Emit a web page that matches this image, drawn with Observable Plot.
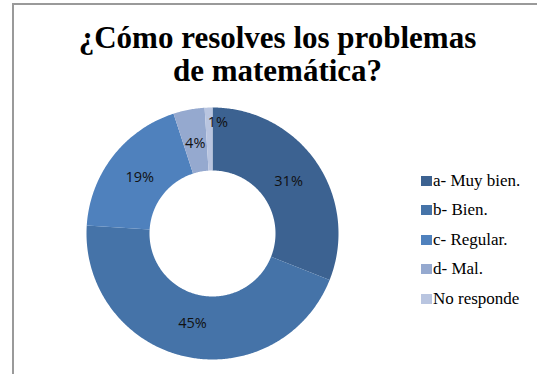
<!DOCTYPE html>
<html>
<head>
<meta charset="utf-8">
<script src="https://cdn.jsdelivr.net/npm/d3@7"></script>
<script src="https://cdn.jsdelivr.net/npm/@observablehq/plot@0.6"></script>
</head>
<body style="margin:0;background:#fff">
<div id="wrap" style="position:relative;width:537px;height:374px;overflow:hidden">
  <div style="position:absolute;left:12px;top:3px;width:560px;height:400px;border-left:2px solid #9a9a9a;border-top:2px solid #9a9a9a"></div>
  <div id="chart" style="position:absolute;left:0;top:0"></div>
  <div id="title" style="position:absolute;left:14px;width:527px;top:21px;text-align:center;font-family:'Liberation Serif';font-weight:bold;font-size:31px;line-height:33px;color:#000">¿Cómo resolves los problemas<br>de matemática?</div>
  <div id="legend" style="position:absolute;left:421px;top:166px;font-family:'Liberation Serif';font-size:17px;color:#000"></div>
</div>
<script>
const categories = ["a- Muy bien.", "b- Bien.", "c- Regular.", "d- Mal.", "No responde"];
const values = [31, 45, 19, 4, 1];
const labels = ["31%", "45%", "19%", "4%", "1%"];
const colors = ["#3c6291", "#4573a8", "#4f81bd", "#95a9cf", "#b9c5e0"];

const W = 537, H = 374;
const cx = 212, cy = 233, R = 126;      // pixel centre and outer radius
const innerFrac = 0.5;

const total = d3.sum(values);
const pie = d3.pie().sort(null).value(d => d.value)(categories.map((c, i) => ({cat: c, value: values[i], label: labels[i]})));

const poly = [];
pie.forEach(s => {
  const a0 = s.startAngle, a1 = s.endAngle;
  const n = Math.max(4, Math.ceil((a1 - a0) / 0.01));
  for (let k = 0; k <= n; k++) {
    const a = a0 + (a1 - a0) * k / n;
    poly.push({cat: s.data.cat, x: Math.sin(a), y: Math.cos(a)});
  }
  for (let k = n; k >= 0; k--) {
    const a = a0 + (a1 - a0) * k / n;
    poly.push({cat: s.data.cat, x: innerFrac * Math.sin(a), y: innerFrac * Math.cos(a)});
  }
});

const labelPts = pie.map(s => {
  const small = s.data.value / total < 0.02;
  const a = (s.startAngle + s.endAngle) / 2 + (small ? 0.08 : 0);
  const r = small ? 0.88 : 0.73;
  return {cat: s.data.cat, label: s.data.label, x: r * Math.sin(a), y: r * Math.cos(a)};
});

const chart = Plot.plot({
  width: W, height: H,
  marginTop: 0, marginRight: 0, marginBottom: 0, marginLeft: 0,
  x: {domain: [-cx / R, (W - cx) / R], axis: null},
  y: {domain: [-(H - cy) / R, cy / R], axis: null},
  color: {domain: categories, range: colors},
  style: {background: "transparent", overflow: "visible"},
  marks: [
    Plot.line(poly, {x: "x", y: "y", z: "cat", fill: "cat", stroke: null, curve: "linear-closed"}),
    Plot.text(labelPts, {x: "x", y: "y", text: "label", fill: "#111",
      fontFamily: "Open Sans", fontSize: 14.5})
  ]
});
document.getElementById("chart").appendChild(chart);

const legend = document.getElementById("legend");
categories.forEach((c, i) => {
  const row = document.createElement("div");
  row.style.cssText = "height:29.5px;display:flex;align-items:center;white-space:nowrap";
  const sw = document.createElement("span");
  sw.style.cssText = "width:11px;height:10px;margin-right:1px;flex:none;background:" + colors[i];
  const t = document.createElement("span");
  t.textContent = c;
  row.appendChild(sw); row.appendChild(t);
  legend.appendChild(row);
});
</script>
</body>
</html>
